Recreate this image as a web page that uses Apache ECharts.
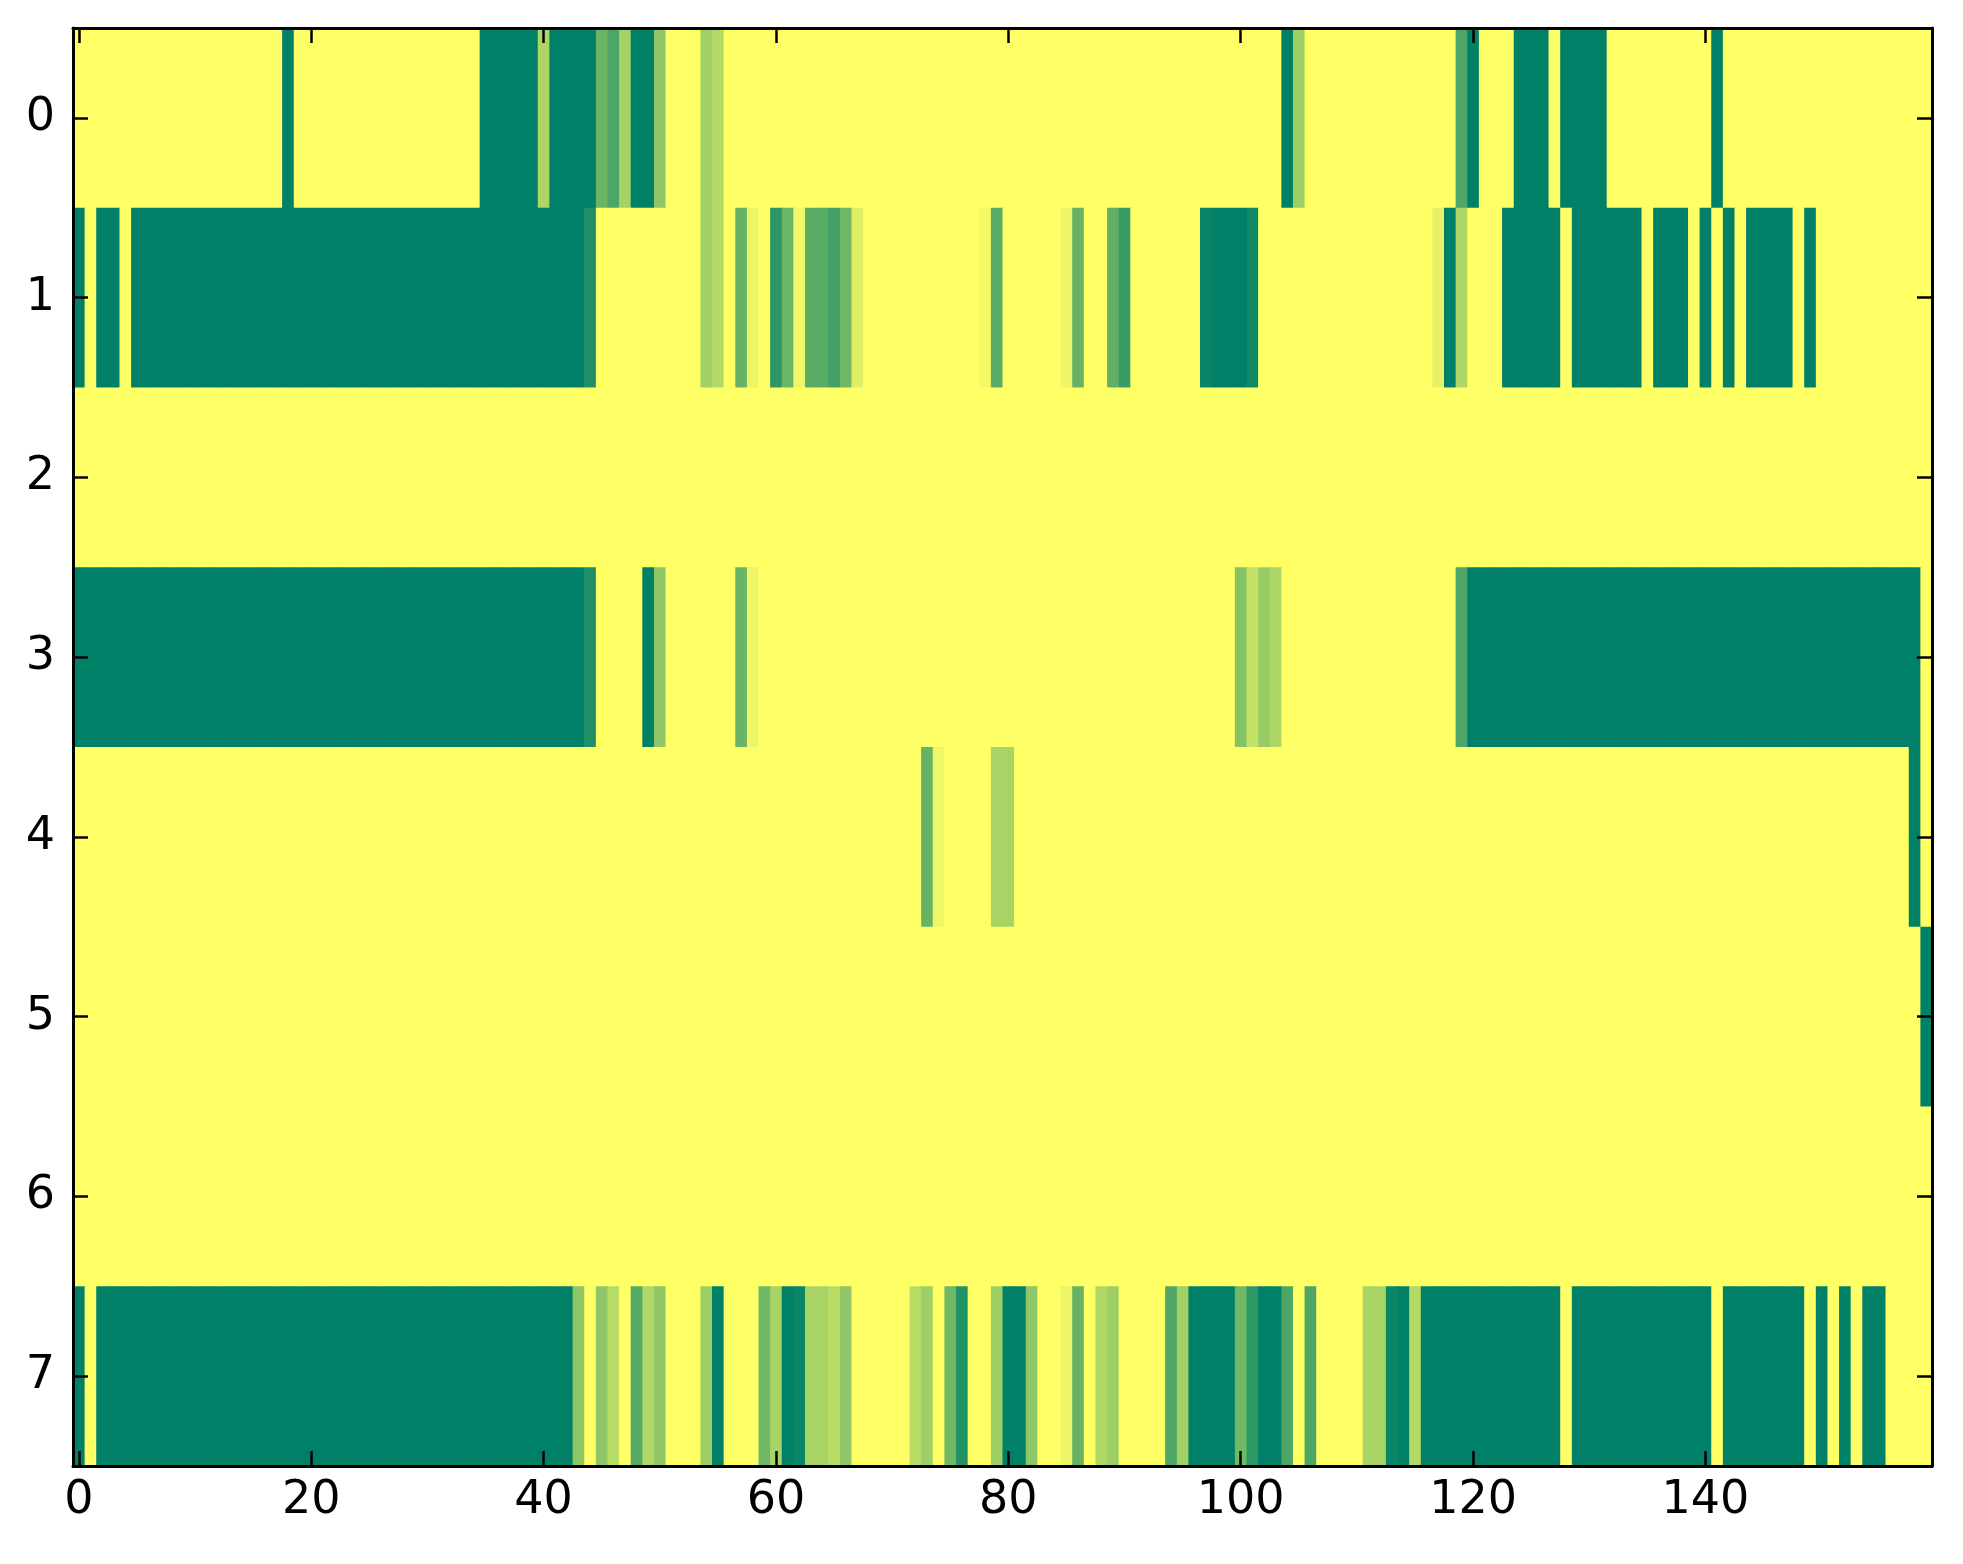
<!DOCTYPE html>
<html>
<head>
<meta charset="utf-8">
<script src="https://cdn.jsdelivr.net/npm/echarts@6/dist/echarts.min.js"></script>
<style>
html,body{margin:0;padding:0;background:#fff;}
#chart{width:1963px;height:1564px;}
</style>
</head>
<body>
<div id="chart"></div>
<script>
// Cell values (0 = dark green, 1 = yellow), 160 columns per row
const row0 = [
  1,1,1,1,1,1,1,1,1,1, 1,1,1,1,1,1,1,1,0,1,
  1,1,1,1,1,1,1,1,1,1, 1,1,1,1,1,0,0,0,0,0,
  0.68,0,0,0,0,0.42,0.3,0.65,0,0, 0.56,1,1,1,0.63,0.7,1,1,1,1,
  1,1,1,1,1,1,1,1,1,1, 1,1,1,1,1,1,1,1,1,1,
  1,1,1,1,1,1,1,1,1,1, 1,1,1,1,1,1,1,1,1,1,
  1,1,1,1,0,0.62,1,1,1,1, 1,1,1,1,1,1,1,1,1,0.3,
  0,1,1,1,0,0,0,1,0,0, 0,0,1,1,1,1,1,1,1,1,
  1,0,1,1,1,1,1,1,1,1, 1,1,1,1,1,1,1,1,1,1
];
const row1 = [
  0,1,0,0,1,0,0,0,0,0, 0,0,0,0,0,0,0,0,0,0,
  0,0,0,0,0,0,0,0,0,0, 0,0,0,0,0,0,0,0,0,0,
  0,0,0,0,0.12,1,1,1,1,1, 1,1,1,1,0.63,0.7,1,0.4,0.92,1,
  0.18,0.42,0.94,0.35,0.35,0.26,0.43,0.87,1,1, 1,1,1,1,1,1,1,1,0.95,0.35,
  1,1,1,1,1,0.93,0.4,1,1,0.38, 0.22,1,1,1,1,1,1,0.03,0,0,
  0,0.06,1,1,1,1,1,1,1,1, 1,1,1,1,1,1,1,0.9,0,0.68,
  1,1,1,0,0,0,0,0,1,0, 0,0,0,0,0,1,0,0,0,1,
  0,1,0,1,0,0,0,0,1,0, 1,1,1,1,1,1,1,1,1,1
];
const row2 = [
  1,1,1,1,1,1,1,1,1,1, 1,1,1,1,1,1,1,1,1,1,
  1,1,1,1,1,1,1,1,1,1, 1,1,1,1,1,1,1,1,1,1,
  1,1,1,1,1,1,1,1,1,1, 1,1,1,1,1,1,1,1,1,1,
  1,1,1,1,1,1,1,1,1,1, 1,1,1,1,1,1,1,1,1,1,
  1,1,1,1,1,1,1,1,1,1, 1,1,1,1,1,1,1,1,1,1,
  1,1,1,1,1,1,1,1,1,1, 1,1,1,1,1,1,1,1,1,1,
  1,1,1,1,1,1,1,1,1,1, 1,1,1,1,1,1,1,1,1,1,
  1,1,1,1,1,1,1,1,1,1, 1,1,1,1,1,1,1,1,1,1
];
const row3 = [
  0,0,0,0,0,0,0,0,0,0, 0,0,0,0,0,0,0,0,0,0,
  0,0,0,0,0,0,0,0,0,0, 0,0,0,0,0,0,0,0,0,0,
  0,0,0,0,0.12,1,1,1,1,0, 0.56,1,1,1,1,1,1,0.41,0.93,1,
  1,1,1,1,1,1,1,1,1,1, 1,1,1,1,1,1,1,1,1,1,
  1,1,1,1,1,1,1,1,1,1, 1,1,1,1,1,1,1,1,1,1,
  0.52,0.77,0.6,0.68,1,1,1,1,1,1, 1,1,1,1,1,1,1,1,1,0.3,
  0,0,0,0,0,0,0,0,0,0, 0,0,0,0,0,0,0,0,0,0,
  0,0,0,0,0,0,0,0,0,0, 0,0,0,0,0,0,0,0,0,1
];
const row4 = [
  1,1,1,1,1,1,1,1,1,1, 1,1,1,1,1,1,1,1,1,1,
  1,1,1,1,1,1,1,1,1,1, 1,1,1,1,1,1,1,1,1,1,
  1,1,1,1,1,1,1,1,1,1, 1,1,1,1,1,1,1,1,1,1,
  1,1,1,1,1,1,1,1,1,1, 1,1,1,0.4,0.94,1,1,1,1,0.66,
  0.66,1,1,1,1,1,1,1,1,1, 1,1,1,1,1,1,1,1,1,1,
  1,1,1,1,1,1,1,1,1,1, 1,1,1,1,1,1,1,1,1,1,
  1,1,1,1,1,1,1,1,1,1, 1,1,1,1,1,1,1,1,1,1,
  1,1,1,1,1,1,1,1,1,1, 1,1,1,1,1,1,1,1,0,1
];
const row5 = [
  1,1,1,1,1,1,1,1,1,1, 1,1,1,1,1,1,1,1,1,1,
  1,1,1,1,1,1,1,1,1,1, 1,1,1,1,1,1,1,1,1,1,
  1,1,1,1,1,1,1,1,1,1, 1,1,1,1,1,1,1,1,1,1,
  1,1,1,1,1,1,1,1,1,1, 1,1,1,1,1,1,1,1,1,1,
  1,1,1,1,1,1,1,1,1,1, 1,1,1,1,1,1,1,1,1,1,
  1,1,1,1,1,1,1,1,1,1, 1,1,1,1,1,1,1,1,1,1,
  1,1,1,1,1,1,1,1,1,1, 1,1,1,1,1,1,1,1,1,1,
  1,1,1,1,1,1,1,1,1,1, 1,1,1,1,1,1,1,1,1,0
];
const row6 = [
  1,1,1,1,1,1,1,1,1,1, 1,1,1,1,1,1,1,1,1,1,
  1,1,1,1,1,1,1,1,1,1, 1,1,1,1,1,1,1,1,1,1,
  1,1,1,1,1,1,1,1,1,1, 1,1,1,1,1,1,1,1,1,1,
  1,1,1,1,1,1,1,1,1,1, 1,1,1,1,1,1,1,1,1,1,
  1,1,1,1,1,1,1,1,1,1, 1,1,1,1,1,1,1,1,1,1,
  1,1,1,1,1,1,1,1,1,1, 1,1,1,1,1,1,1,1,1,1,
  1,1,1,1,1,1,1,1,1,1, 1,1,1,1,1,1,1,1,1,1,
  1,1,1,1,1,1,1,1,1,1, 1,1,1,1,1,1,1,1,1,1
];
const row7 = [
  0,1,0,0,0,0,0,0,0,0, 0,0,0,0,0,0,0,0,0,0,
  0,0,0,0,0,0,0,0,0,0, 0,0,0,0,0,0,0,0,0,0,
  0,0,0,0.55,1,0.56,0.72,1,0.33,0.69, 0.56,1,1,1,0.62,0,1,1,1,0.44,
  0.66,0,0.04,0.66,0.66,0.72,0.56,1,1,1, 1,1,0.72,0.62,1,0.44,0.13,1,1,0.62,
  0,0,0.55,1,1,0.92,0.4,1,0.69,0.62, 1,1,1,1,0.3,0.63,0,0,0,0,
  0.44,0.18,0,0,0.3,1,0.3,1,1,1, 1,0.66,0.66,0.04,0,0.7,0,0,0,0,
  0,0,0,0,0,0,0,0,1,0, 0,0,0,0,0,0,0,0,0,0,
  0,1,0,0,0,0,0,0,0,1, 0,1,0,1,0,0,1,1,1,1
];
const rows = [row0, row1, row2, row3, row4, row5, row6, row7];
const xTickValues = [0, 20, 40, 60, 80, 100, 120, 140];
const yTickValues = [0, 1, 2, 3, 4, 5, 6, 7];

const cells = [];
rows.forEach(function (r, ri) {
  r.forEach(function (v, ci) { cells.push([ci, ri, v]); });
});

const FONT = 'DejaVu Sans';
const axisLineStyle = { show: true, onZero: false, lineStyle: { color: '#000', width: 3 } };
function xAxisDef(pos, showLabel) {
  return {
    type: 'value', position: pos, min: -0.5, max: 159.5, z: 10,
    axisLine: axisLineStyle,
    axisTick: { show: true, inside: true, length: 15, lineStyle: { color: '#000', width: 2.5 }, customValues: xTickValues },
    axisLabel: { show: showLabel, customValues: xTickValues, color: '#000', fontSize: 46, fontFamily: FONT, margin: 12 },
    splitLine: { show: false }
  };
}
function yAxisDef(pos, showLabel) {
  return {
    type: 'value', position: pos, min: -0.5, max: 7.5, inverse: true, z: 10,
    axisLine: axisLineStyle,
    axisTick: { show: true, inside: true, length: 15, lineStyle: { color: '#000', width: 2.5 }, customValues: yTickValues },
    axisLabel: { show: showLabel, customValues: yTickValues, color: '#000', fontSize: 46, fontFamily: FONT, margin: 18 },
    splitLine: { show: false }
  };
}

const chart = echarts.init(document.getElementById('chart'), null, { renderer: 'canvas' });
chart.setOption({
  backgroundColor: '#ffffff',
  animation: false,
  grid: { left: 73, right: 31, top: 28, bottom: 98, containLabel: false },
  xAxis: [xAxisDef('bottom', true), xAxisDef('top', false)],
  yAxis: [yAxisDef('left', true), yAxisDef('right', false)],
  visualMap: {
    show: false, type: 'continuous', min: 0, max: 1, dimension: 2, seriesIndex: 0,
    inRange: { color: ['#008066', '#ffff66'] }
  },
  series: [{
    type: 'custom',
    coordinateSystem: 'cartesian2d',
    xAxisIndex: 0, yAxisIndex: 0,
    clip: true,
    encode: { x: 0, y: 1 },
    data: cells,
    renderItem: function (params, api) {
      const c = api.coord([api.value(0), api.value(1)]);
      const s = api.size([1, 1]);
      return {
        type: 'rect',
        shape: { x: c[0] - s[0] / 2, y: c[1] - s[1] / 2, width: s[0] + 0.8, height: s[1] + 0.8 },
        style: { fill: api.visual('color') }
      };
    },
    z: 1
  }]
});
</script>
</body>
</html>
